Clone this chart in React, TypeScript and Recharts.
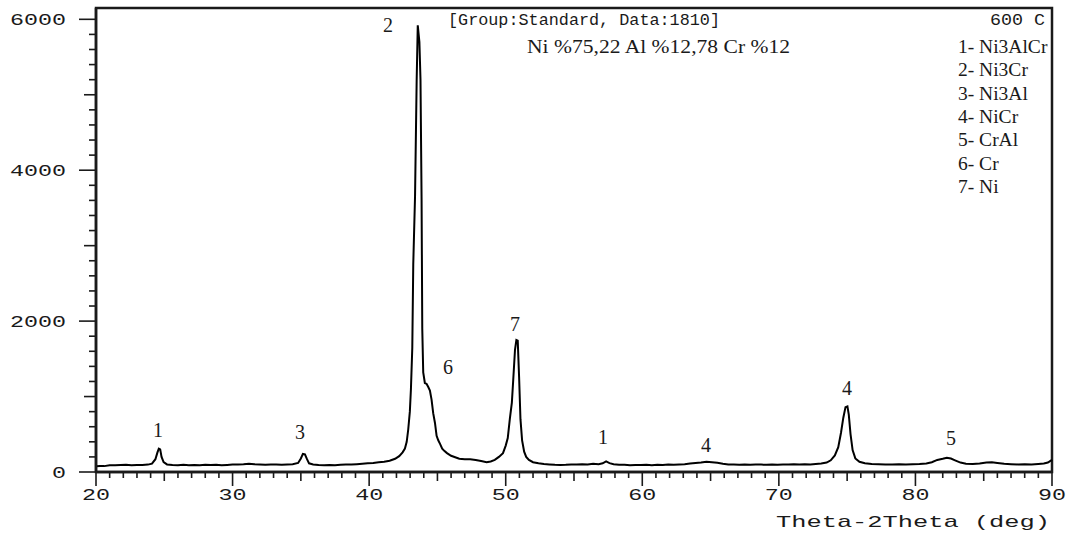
import { LineChart, Line, XAxis, YAxis, ReferenceArea, ReferenceDot, Customized } from 'recharts';

// 2-theta positions (deg) and measured intensity (counts)
const twoTheta = [
  20.0, 20.3, 20.6, 21.0, 21.4, 21.8, 22.2, 22.6, 23.0, 23.4, 23.8, 24.1, 24.35, 24.5, 24.6, 24.7, 24.8, 24.95,
  25.2, 25.6, 26.0, 26.4, 26.8, 27.2, 27.6, 28.0, 28.4, 28.8, 29.2, 29.6, 30.0, 30.4, 30.8, 31.2, 31.6, 32.0,
  32.4, 32.8, 33.2, 33.6, 34.0, 34.4, 34.8, 35.0, 35.15, 35.3, 35.45, 35.6, 35.9, 36.3, 36.7, 37.1, 37.5, 37.9,
  38.3, 38.7, 39.1, 39.5, 39.9, 40.3, 40.7, 41.1, 41.5, 41.9, 42.2, 42.45, 42.62, 42.75, 42.86, 42.98, 43.06,
  43.16, 43.23, 43.36, 43.48, 43.56, 43.68, 43.76, 43.84, 43.89, 43.96, 44.08, 44.2, 44.32, 44.45, 44.57, 44.69,
  44.82, 44.94, 45.06, 45.2, 45.35, 45.5, 45.7, 46.0, 46.3, 46.6, 47.0, 47.4, 47.8, 48.2, 48.6, 48.9, 49.2, 49.5,
  49.8, 50.0, 50.15, 50.3, 50.45, 50.55, 50.68, 50.78, 50.88, 50.98, 51.08, 51.2, 51.35, 51.5, 51.7, 52.0, 52.4,
  52.8, 53.2, 53.6, 54.0, 54.4, 54.8, 55.2, 55.6, 56.0, 56.4, 56.8, 57.1, 57.35, 57.6, 57.9, 58.3, 58.7, 59.1,
  59.5, 59.9, 60.3, 60.7, 61.1, 61.5, 61.9, 62.3, 62.7, 63.1, 63.5, 63.9, 64.3, 64.7, 65.1, 65.5, 65.9, 66.3,
  66.7, 67.1, 67.5, 67.9, 68.3, 68.7, 69.1, 69.5, 69.9, 70.3, 70.7, 71.1, 71.5, 71.9, 72.3, 72.7, 73.1, 73.5,
  73.8, 74.1, 74.35, 74.55, 74.72, 74.88, 75.02, 75.12, 75.25, 75.4, 75.6, 75.9, 76.3, 76.8, 77.3, 77.8, 78.3,
  78.8, 79.3, 79.8, 80.3, 80.8, 81.2, 81.6, 82.0, 82.3, 82.6, 82.9, 83.3, 83.7, 84.2, 84.7, 85.2, 85.6, 86.0,
  86.5, 87.0, 87.5, 88.0, 88.5, 89.0, 89.4, 89.7, 90.0,
];

const intensity = [
  75, 80, 78, 90, 88, 92, 95, 90, 94, 92, 98, 110, 170, 260, 310, 300, 200, 130,
  100, 92, 90, 95, 88, 92, 90, 95, 92, 96, 90, 94, 98, 100, 104, 110, 104, 100,
  96, 100, 98, 95, 100, 104, 120, 180, 240, 235, 170, 115, 100, 92, 88, 92, 90, 95,
  100, 98, 104, 110, 115, 120, 128, 135, 150, 175, 210, 260, 310, 400, 560, 800, 1100,
  1650, 2750, 3650, 5200, 5920, 5700, 5200, 3600, 1900, 1320, 1180, 1170, 1130, 1080, 960, 780,
  650, 480, 420, 370, 310, 280, 250, 215, 195, 175, 168, 170, 160, 145, 130, 140, 160, 200,
  250, 350, 450, 700, 920, 1220, 1620, 1750, 1740, 1260, 700, 420, 270, 200, 160, 130, 115,
  105, 100, 95, 92, 95, 100, 98, 104, 100, 108, 104, 115, 140, 118, 102, 96, 95, 90,
  94, 92, 95, 90, 96, 92, 98, 95, 100, 104, 112, 120, 126, 135, 130, 122, 110, 100,
  98, 95, 100, 96, 100, 98, 95, 100, 96, 100, 98, 102, 98, 104, 100, 106, 112, 125,
  155, 220, 330, 520, 720, 860, 870, 760, 500, 290, 180, 135, 115, 106, 104, 100, 98,
  102, 100, 104, 106, 112, 130, 160, 175, 190, 178, 155, 125, 110, 105, 112, 125, 128, 120,
  110, 104, 100, 102, 100, 106, 112, 125, 160,
];

// phase numbers marked over the peaks, at (2theta, intensity)
const peakLabels = ['1', '3', '2', '6', '7', '1', '4', '4', '5'];
const peakLabelTheta = [24.54, 34.94, 41.38, 45.77, 50.68, 57.12, 64.67, 74.99, 82.6];
const peakLabelCounts = [556, 530, 5921, 1391, 1960, 464, 358, 1113, 450];

const phaseLegend = ['1- Ni3AlCr', '2- Ni3Cr', '3- Ni3Al', '4- NiCr', '5- CrAl', '6- Cr', '7- Ni'];

const xLabelTicks = [20, 30, 40, 50, 60, 70, 80, 90];
const yLabelTicks = [0, 2000, 4000, 6000];
const xTicks = Array.from({ length: 71 }, (_, i) => 20 + i);
const yTicks = Array.from({ length: 31 }, (_, i) => i * 200);

const data = twoTheta.map((t, i) => ({ t, v: intensity[i] }));

const MONO = '"Liberation Mono", "DejaVu Sans Mono", monospace';
const SERIF = '"Liberation Serif", "DejaVu Serif", serif';
const INK = '#1a1a1a';

const YTick = (props: any) => {
  const { x, y, payload } = props;
  const v = payload.value as number;
  const major = yLabelTicks.includes(v);
  const mid = !major && v % 1000 === 0;
  const len = major ? 17 : mid ? 12 : 7;
  const s = String(v);
  return (
    <g>
      <line x1={x - len} x2={x} y1={y} y2={y} stroke={INK} strokeWidth={1.6} />
      {major && (
        <text
          x={x - 30}
          y={y + 6}
          textAnchor="end"
          fontFamily={MONO}
          fontSize={17}
          fill={INK}
          textLength={s.length * 14}
          lengthAdjust="spacingAndGlyphs"
        >
          {s}
        </text>
      )}
    </g>
  );
};

const XTick = (props: any) => {
  const { x, y, payload } = props;
  const v = payload.value as number;
  const major = xLabelTicks.includes(v);
  const mid = !major && v % 5 === 0;
  const len = major ? 14 : mid ? 9 : 6;
  return (
    <g>
      <line x1={x} x2={x} y1={y} y2={y + len} stroke={INK} strokeWidth={1.6} />
      {major && (
        <text
          x={x}
          y={y + 28}
          textAnchor="middle"
          fontFamily={MONO}
          fontSize={17}
          fill={INK}
          textLength={28}
          lengthAdjust="spacingAndGlyphs"
        >
          {v}
        </text>
      )}
    </g>
  );
};

const Notes = () => (
  <g fill={INK}>
    <text x={448} y={25} fontFamily={MONO} fontSize={16} textLength={272} lengthAdjust="spacingAndGlyphs">
      [Group:Standard, Data:1810]
    </text>
    <text x={990} y={25} fontFamily={MONO} fontSize={16} textLength={55} lengthAdjust="spacingAndGlyphs">
      600 C
    </text>
    <text x={527} y={53} fontFamily={SERIF} fontSize={19} textLength={263} lengthAdjust="spacingAndGlyphs">
      Ni %75,22 Al %12,78 Cr %12
    </text>
    {phaseLegend.map((p, i) => (
      <text key={p} x={958} y={53 + i * 23.3} fontFamily={SERIF} fontSize={19.5}>
        {p}
      </text>
    ))}
    <text x={776} y={527} fontFamily={MONO} fontSize={17} textLength={274} lengthAdjust="spacingAndGlyphs">
      Theta-2Theta (deg)
    </text>
  </g>
);

export default function App() {
  return (
    <div style={{ position: 'absolute', left: 0, top: 0, background: '#fff' }}>
      <LineChart width={1069} height={534} data={data} margin={{ top: 8, right: 17, bottom: 0, left: 0 }}>
        <XAxis
          dataKey="t"
          type="number"
          domain={[20, 90]}
          ticks={xTicks}
          interval={0}
          tick={<XTick />}
          tickSize={0}
          tickMargin={0}
          tickLine={false}
          axisLine={{ stroke: INK, strokeWidth: 2.5 }}
          height={62}
        />
        <YAxis
          type="number"
          domain={[0, 6150]}
          ticks={yTicks}
          interval={0}
          tick={<YTick />}
          tickSize={0}
          tickMargin={0}
          tickLine={false}
          axisLine={{ stroke: INK, strokeWidth: 2.5 }}
          width={96}
        />
        <ReferenceArea x1={20} x2={90} y1={0} y2={6150} fill="none" stroke={INK} strokeWidth={2.5} />
        <Line
          type="linear"
          dataKey="v"
          stroke="#000"
          strokeWidth={2}
          dot={false}
          isAnimationActive={false}
        />
        {peakLabels.map((lbl, i) => (
          <ReferenceDot
            key={`pk-${i}`}
            x={peakLabelTheta[i]}
            y={peakLabelCounts[i]}
            r={1}
            fill="none"
            stroke="none"
            label={{ value: lbl, position: 'center', fontFamily: SERIF, fontSize: 20, fill: INK }}
          />
        ))}
        <Customized component={Notes} />
      </LineChart>
    </div>
  );
}
